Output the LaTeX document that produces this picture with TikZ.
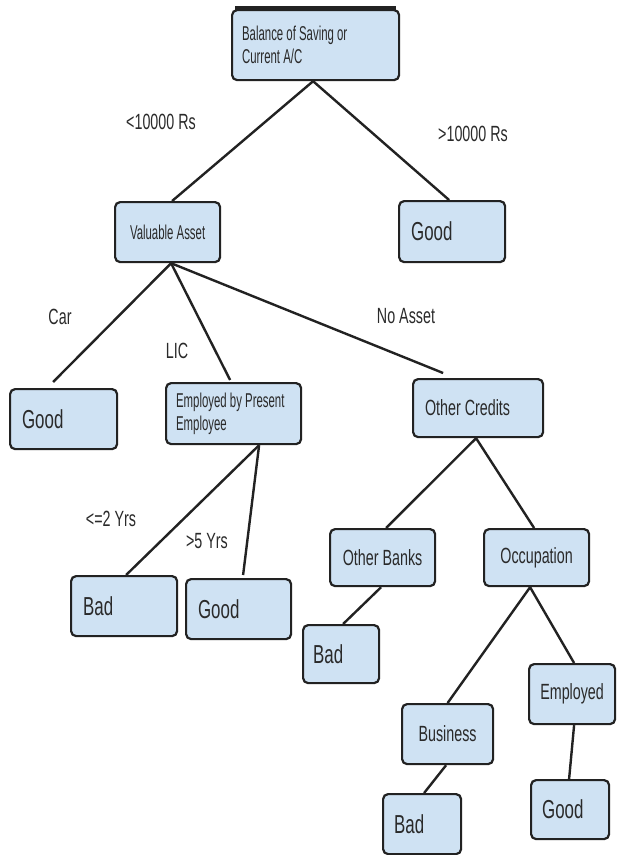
\documentclass[tikz,border=0pt]{standalone}
\usepackage{fontspec}
\setmainfont{Liberation Sans}
\newfontfamily\fbig{Liberation Sans}[FakeStretch=0.65]
\newfontfamily\fsm{Liberation Sans}[FakeStretch=0.57]
\usetikzlibrary{calc}
\definecolor{boxfill}{HTML}{CFE2F3}
\definecolor{edgecol}{HTML}{222222}
\definecolor{txt}{HTML}{2A2A2A}
\begin{document}
\begin{tikzpicture}[x=1pt,y=-1pt,
 box/.style={draw=edgecol, line width=2.2pt, fill=boxfill, rounded corners=5pt, anchor=north west, text=txt, inner ysep=0pt, align=flush left},
 conn/.style={draw=edgecol, line width=2.4pt},
 lbl/.style={text=txt, font=\fbig\fontsize{22}{24}\selectfont, inner sep=0pt},
 big/.style={font=\fbig\fontsize{26}{28}\selectfont},
 mid/.style={font=\fbig\fontsize{22}{24}\selectfont},
 sml/.style={font=\fsm\fontsize{20}{23}\selectfont},
]
\useasboundingbox (0,0) rectangle (617,855);
\fill[white] (0,0) rectangle (617,855);
% boxes
\node[box, sml, text width=147pt, inner xsep=10pt, minimum height=70pt] (root) at (231,9) {Balance of Saving or\\Current A/C};
\node[box, sml, text width=95pt, inner xsep=5pt, minimum height=60pt, align=flush center] (va) at (114,201) {Valuable Asset};
\node[box, big, text width=82pt, inner xsep=12pt, minimum height=61pt] (goodR) at (398,200) {Good};
\node[box, big, text width=83pt, inner xsep=12pt, minimum height=60pt] (goodL) at (9,388) {Good};
\node[box, sml, text width=115pt, inner xsep=10pt, minimum height=61pt] (emp) at (165,382) {Employed by Present\\Employee};
\node[box, mid, text width=106pt, inner xsep=12pt, minimum height=58pt] (oc) at (412,378) {Other Credits};
\node[box, big, text width=82pt, inner xsep=12pt, minimum height=60pt] (bad1) at (70,575) {Bad};
\node[box, big, text width=81pt, inner xsep=12pt, minimum height=60pt] (good2) at (185,578) {Good};
\node[box, mid, text width=95pt, inner xsep=5pt, minimum height=57pt, align=flush center] (ob) at (329,528) {Other Banks};
\node[box, mid, text width=95pt, inner xsep=5pt, minimum height=57pt, align=flush center] (occ) at (483,528) {Occupation};
\node[box, big, text width=56pt, inner xsep=10pt, minimum height=58pt] (bad2) at (302,624) {Bad};
\node[box, mid, text width=80pt, inner xsep=3pt, minimum height=60pt, align=flush center] (emp2) at (528,663) {Employed};
\node[box, mid, text width=83pt, inner xsep=4pt, minimum height=60pt, align=flush center] (bus) at (401,703) {Business};
\node[box, big, text width=56pt, inner xsep=11pt, minimum height=60pt] (bad3) at (382,793) {Bad};
\node[box, big, text width=56pt, inner xsep=11pt, minimum height=59pt] (good3) at (530,779) {Good};
% thick top of root
\draw[edgecol, line width=3.5pt] ([xshift=4pt,yshift=1pt]root.north west) -- ([xshift=-4pt,yshift=1pt]root.north east);
% connectors
\draw[conn] ([xshift=-2.5pt]root.south) -- ([xshift=4.5pt]va.north);
\draw[conn] ([xshift=-2.5pt]root.south) -- ([xshift=-3pt]goodR.north);
\draw[conn] ([xshift=3.5pt]va.south) -- ([xshift=-10.5pt,yshift=6pt]goodL.north);
\draw[conn] ([xshift=3.5pt]va.south) -- ([xshift=-3.5pt,yshift=2pt]emp.north);
\draw[conn] ([xshift=3.5pt]va.south) -- ([xshift=-35pt,yshift=5pt]oc.north);
\draw[conn] ([xshift=25.5pt]emp.south) -- ([xshift=2pt]bad1.north);
\draw[conn] ([xshift=25.5pt]emp.south) -- ([xshift=4.5pt,yshift=3pt]good2.north);
\draw[conn] ([xshift=-2pt]oc.south) -- ([xshift=3.5pt]ob.north);
\draw[conn] ([xshift=-2pt]oc.south) -- ([xshift=-2.5pt]occ.north);
\draw[conn] ([xshift=-1.5pt]ob.south) -- ([xshift=2pt]bad2.north);
\draw[conn] ([xshift=-6.5pt]occ.south) -- (bus.north);
\draw[conn] ([xshift=-6.5pt]occ.south) -- ([xshift=2pt]emp2.north);
\draw[conn] ([xshift=-1.5pt]bus.south) -- ([xshift=2pt]bad3.north);
\draw[conn] ([xshift=2pt]emp2.south) -- ([xshift=-1pt]good3.north);
% labels
\node[lbl] (l1) at (161,122) {<10000 Rs};
\node[lbl] (l2) at (473,134) {>10000 Rs};
\node[lbl] (l3) at (60,317) {Car};
\node[lbl] (l4) at (177,351) {LIC};
\node[lbl] (l5) at (406,316) {No Asset};
\node[lbl] (l6) at (111,519) {<=2 Yrs};
\node[lbl] (l7) at (207,541) {>5 Yrs};
\end{tikzpicture}
\end{document}
